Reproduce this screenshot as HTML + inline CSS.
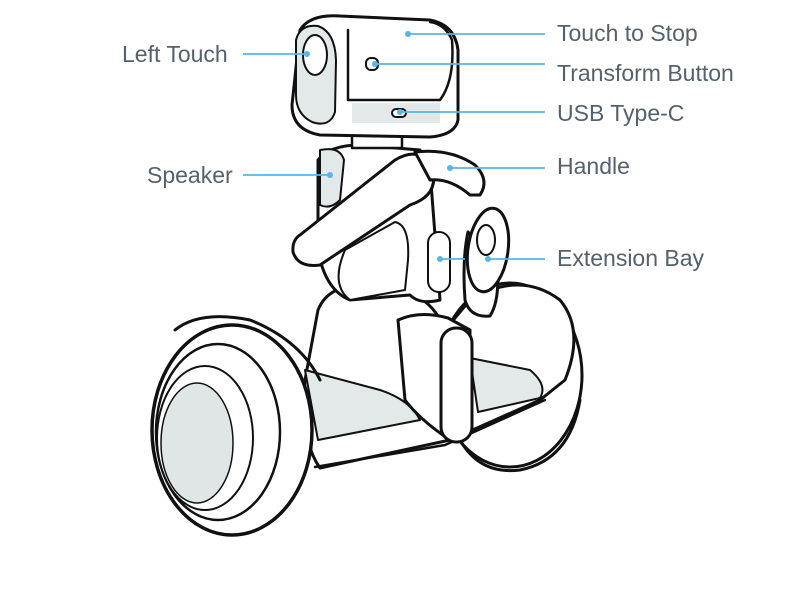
<!DOCTYPE html>
<html><head><meta charset="utf-8"><style>
html,body{margin:0;padding:0;background:#fff;}
svg{display:block;}
text{font-family:"Liberation Sans",sans-serif;font-size:23px;fill:#56616b;}
</style></head><body>
<svg width="800" height="600" viewBox="0 0 800 600" xmlns="http://www.w3.org/2000/svg">
<g fill="#fff" stroke="#111" stroke-width="3" stroke-linejoin="round" stroke-linecap="round">
<!-- right wheel -->
<ellipse cx="510" cy="375" rx="72" ry="92"/>
<path d="M460 440 Q480 475 520 470 Q570 460 580 400" fill="none"/>
<!-- base body -->
<path d="M318 310 Q330 280 380 285 Q430 290 445 330 L470 300 Q520 270 560 300 Q585 330 565 380 L540 400 L450 440 L320 468 Q300 440 305 380 Z"/>
<path d="M305 370 L380 390 Q410 400 420 420 L318 440 Z" fill="#e3e8e8" stroke-width="2"/>
<path d="M470 358 L530 370 Q548 385 540 398 L478 412 Z" fill="#e3e8e8" stroke-width="2"/>
<path d="M315 467 L445 445 L545 400" fill="none" stroke-width="2.5"/>
<!-- left wheel -->
<path d="M175 330 Q200 310 250 320 Q300 340 320 380" fill="none"/>
<ellipse cx="232" cy="430" rx="80" ry="105" stroke-width="3.5"/>
<ellipse cx="218" cy="432" rx="62" ry="88" stroke-width="2.5"/>
<ellipse cx="205" cy="438" rx="48" ry="72" stroke-width="2"/>
<ellipse cx="197" cy="443" rx="36" ry="60" fill="#e0e6e6" stroke-width="1.5"/>
<!-- front knee pad -->
<path d="M398 320 Q420 310 448 318 L470 330 L470 420 L450 440 Q420 420 405 400 Z"/>
<rect x="441" y="328" width="31" height="114" rx="15"/>
<!-- torso -->
<path d="M318 160 Q330 145 360 145 L420 150 L430 170 L440 300 Q420 305 410 295 L350 300 Q325 290 318 250 Z"/>
<path d="M320 150 Q340 146 344 160 L340 200 Q330 210 320 205 Z" fill="#e3e8e8" stroke-width="2"/>
<path d="M345 250 L395 222 Q410 225 408 260 L405 290 L350 300 Q330 285 345 250 Z" stroke-width="2"/>
<rect x="428" y="232" width="22" height="60" rx="11" stroke-width="2"/>
<!-- arm -->
<path d="M300 235 L395 160 Q420 145 432 168 Q440 195 410 205 L320 265 Q298 268 293 252 Q292 240 300 235 Z"/>
<!-- handle -->
<path d="M415 152 Q450 148 475 165 Q490 180 480 195 L470 195 Q450 178 430 180 Z"/>
<!-- extension bay -->
<path d="M468 232 Q462 260 465 300 Q470 318 490 316 Q500 300 497 268 Z"/>
<ellipse cx="488" cy="250" rx="20" ry="42" transform="rotate(8 488 250)"/>
<ellipse cx="486" cy="240" rx="9" ry="15" stroke-width="2"/>
<!-- neck -->
<rect x="352" y="130" width="50" height="18" stroke-width="2.5"/>
<!-- head -->
<path d="M300 30 Q310 14 340 16 L430 20 Q455 25 458 50 L458 120 Q455 135 430 137 L320 135 Q292 130 292 105 Z"/>
<path d="M296 40 Q300 24 318 26 Q335 32 336 60 L335 112 Q330 128 312 122 Q296 114 296 95 Z" fill="#e3e8e8" stroke-width="2"/>
<ellipse cx="315" cy="55" rx="12" ry="20" stroke-width="2"/>
<path d="M348 30 L348 100 L440 100 Q455 80 452 40 Q445 24 430 22" fill="none" stroke-width="2.5"/>
<rect x="352" y="103" width="88" height="20" fill="#e3e8e8" stroke-width="0"/>
<rect x="366" y="58" width="12" height="12" rx="5" stroke-width="2"/>
<rect x="392" y="109" width="14" height="8" rx="4" stroke-width="2"/>
</g>
<!-- callouts -->
<g stroke="#5ab4e8" stroke-width="1.8" fill="none">
<line x1="243" y1="54" x2="307" y2="54"/>
<line x1="408" y1="34" x2="545" y2="34"/>
<line x1="375" y1="64" x2="545" y2="64"/>
<line x1="400" y1="112" x2="545" y2="112"/>
<line x1="450" y1="168" x2="545" y2="168"/>
<line x1="243" y1="175" x2="330" y2="175"/>
<line x1="440" y1="259" x2="465" y2="259"/>
<line x1="488" y1="259" x2="545" y2="259"/>
</g>
<g fill="#5ab4e8">
<circle cx="307" cy="54" r="3"/><circle cx="408" cy="34" r="3"/><circle cx="375" cy="64" r="3"/>
<circle cx="400" cy="112" r="3"/><circle cx="450" cy="168" r="3"/><circle cx="330" cy="175" r="3"/>
<circle cx="440" cy="259" r="3"/><circle cx="488" cy="259" r="3"/>
</g>
<text x="122" y="62">Left Touch</text>
<text x="147" y="183">Speaker</text>
<text x="557" y="41">Touch to Stop</text>
<text x="557" y="81">Transform Button</text>
<text x="557" y="121">USB Type-C</text>
<text x="557" y="174">Handle</text>
<text x="557" y="266">Extension Bay</text>
</svg>
</body></html>
